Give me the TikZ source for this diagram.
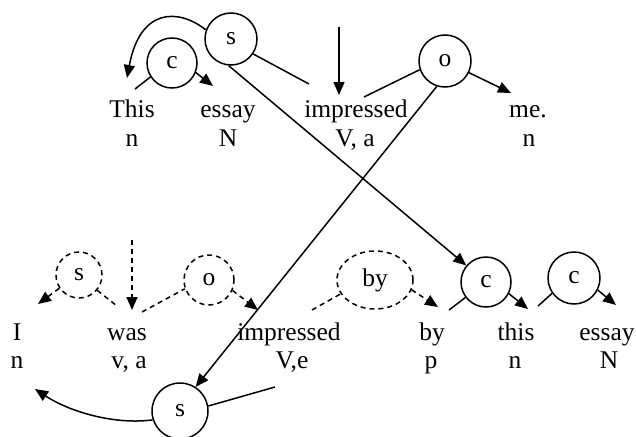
\documentclass[tikz,border=0pt]{standalone}
\usepackage{fontspec}
\setmainfont{Liberation Serif}
\usetikzlibrary{arrows.meta,shapes.geometric}
\begin{document}
\begin{tikzpicture}[x=1pt,y=-1pt,
  rel/.style={circle,draw,line width=1.5pt,inner sep=0pt,minimum size=50pt,font=\fontsize{25.5}{29}\selectfont},
  word/.style={inner sep=0pt,anchor=base,font=\fontsize{25.5}{29}\selectfont},
  plain/.style={line width=1.5pt},
  conn/.style={line width=1.5pt,-{Triangle[length=13pt,width=11pt]}},
  dsh/.style={dash pattern=on 5pt off 4pt}]
\useasboundingbox (0,0) rectangle (636,436);
% relation circles
\node[rel,minimum size=52pt] (S1) at (231,39) {s};
\node[rel,minimum size=50pt] (C1) at (172,63) {c};
\node[rel,minimum size=52pt] (O1) at (445,61) {o};
\node[rel,minimum size=50pt] (C2) at (486,282) {c};
\node[rel,minimum size=52pt] (C3) at (574,278) {c};
\node[rel,minimum size=56pt] (S2) at (180,411) {s};
\node[rel,dsh,minimum size=46pt] (S3) at (79,275) {s};
\node[rel,dsh,minimum size=50pt] (O2) at (209,280) {o};
\node[ellipse,draw,dsh,line width=1.5pt,inner sep=0pt,minimum width=76pt,minimum height=58pt,font=\fontsize{25.5}{29}\selectfont] (BY) at (375,280) {by};
% top words
\node[word] (w1) at (132,117) {This}; \node[word] (t1) at (132,146) {n};
\node[word] (w2) at (228,117) {essay}; \node[word] (t2) at (228,146) {N};
\node[word] (w3) at (356,117) {impressed}; \node[word] (t3) at (355,146) {V, a};
\node[word] (w4) at (528,117) {me.}; \node[word] (t4) at (529,146) {n};
% bottom words
\node[word] (v1) at (17,340) {I}; \node[word] (u1) at (17,368) {n};
\node[word] (v2) at (127,340) {was}; \node[word] (u2) at (129,368) {v, a};
\node[word] (v3) at (289,340) {impressed}; \node[word] (u3) at (292,368) {V,e};
\node[word] (v4) at (432,340) {by}; \node[word] (u4) at (431,368) {p};
\node[word] (v5) at (516,340) {this}; \node[word] (u5) at (515,368) {n};
\node[word] (v6) at (607,340) {essay}; \node[word] (u6) at (609,368) {N};
% free ends
\coordinate (a1) at (127,78);
\coordinate (a2) at (135,89);
\coordinate (a3) at (213,86);
\coordinate (a4) at (309,84);
\coordinate (a5t) at (339,27); \coordinate (a5b) at (339,95);
\coordinate (a6) at (364,97);
\coordinate (a7) at (511,93);
\coordinate (b1) at (38,304);
\coordinate (b2) at (117,306);
\coordinate (b3t) at (132,240); \coordinate (b3b) at (132,310);
\coordinate (b4) at (142,312);
\coordinate (b5) at (258,310);
\coordinate (b6) at (312,310);
\coordinate (b7) at (438,307);
\coordinate (b8) at (449,310);
\coordinate (b9) at (528,309);
\coordinate (b10) at (538,306);
\coordinate (b11) at (616,305);
\coordinate (b12) at (275,387);
\coordinate (b13) at (35,389);
% top connectors
\draw[conn] (S1.160) .. controls (178,8) and (140,8) .. (a1);
\draw[plain] (a2) -- (C1.213);
\draw[conn] (C1.-22) -- (a3);
\draw[plain] (S1.-34) -- (a4);
\draw[conn] (S1.-95) -- (C2.140);
\draw[conn] (a5t) -- (a5b);
\draw[plain] (a6) -- (O1.199);
\draw[conn] (O1.-26) -- (a7);
\draw[conn] (O1.-108) -- (S2.57);
% bottom connectors
\draw[plain] (S2.10) -- (b12);
\draw[conn] (S2.198) .. controls (115,425) and (70,412) .. (b13);
\draw[conn,dsh] (S3.214) -- (b1);
\draw[plain,dsh] (S3.-40) -- (b2);
\draw[conn,dsh] (b3t) -- (b3b);
\draw[plain,dsh] (b4) -- (O2.200);
\draw[conn,dsh] (O2.-24) -- (b5);
\draw[plain,dsh] (b6) -- (BY.202);
\draw[conn,dsh] (BY.-15) -- (b7);
\draw[plain] (b8) -- (C2.217);
\draw[conn] (C2.-27) -- (b9);
\draw[plain] (b10) -- (C3.215);
\draw[conn] (C3.-27) -- (b11);
\end{tikzpicture}
\end{document}
